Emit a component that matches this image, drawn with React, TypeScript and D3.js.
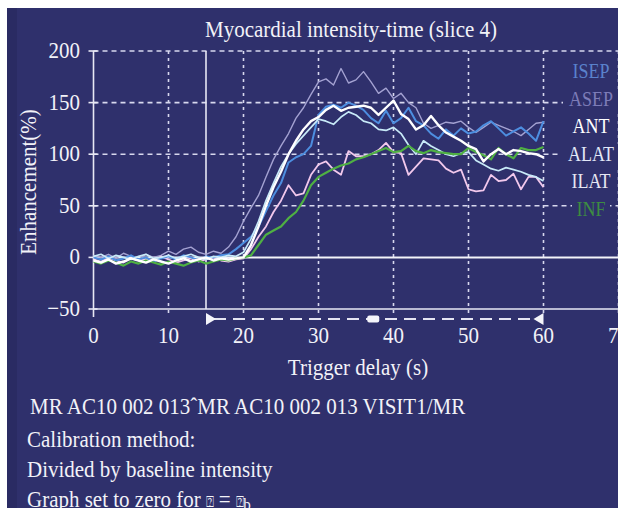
import React from "react";
import * as d3 from "d3";

const times = d3.range(0, 61, 1);

const ISEP = [0,-2,1,-3,-1,2,-2,0,-4,-1,1,-2,2,0,-3,1,0,2,3,8,14,20,30,45,60,72,92,97,100,108,138,146,148,145,150,147,143,135,130,142,130,135,145,132,128,120,115,124,118,125,120,122,128,132,125,118,122,126,120,113,132];
const ASEP = [2,0,3,-1,4,1,-2,3,0,2,6,3,8,10,5,3,6,4,10,20,35,48,60,78,95,108,120,135,145,158,170,173,167,183,169,172,180,170,159,164,154,159,150,145,130,125,128,131,130,132,126,121,126,131,128,125,122,118,124,130,131];
const ANT = [-3,-5,-2,-6,-4,-1,-3,-5,-2,-4,-6,-3,-1,-4,-2,0,-3,-1,-2,-1,0,12,30,50,68,83,100,113,124,132,136,143,147,142,145,146,147,145,138,145,152,139,134,124,128,137,128,121,117,113,108,105,93,100,105,100,104,103,101,100,97];
const ALAT = [1,3,-1,2,0,-2,1,3,-1,0,2,-1,1,3,0,-2,1,0,2,1,5,18,35,55,72,88,100,110,118,126,134,132,129,136,141,138,132,130,124,123,126,120,109,100,113,108,104,100,98,101,102,94,90,86,84,87,85,83,80,78,74];
const ILAT = [-2,-4,0,-3,-5,-1,-3,-2,-4,1,-2,-5,-3,-1,-4,-2,0,-3,-4,-2,-1,8,20,30,44,55,70,60,62,80,90,93,85,80,103,98,98,100,104,111,102,101,80,88,96,95,94,86,82,85,66,64,65,80,74,75,81,66,78,78,68];
const INF = [-4,-6,-3,-5,-8,-4,-6,-3,-5,-7,-4,-6,-8,-5,-3,-6,-4,-2,-3,-1,0,2,12,22,26,30,38,44,55,70,78,82,86,89,91,95,97,100,103,106,102,103,108,103,101,104,102,101,100,100,106,102,99,95,106,100,96,106,104,104,107];

const seriesNames = ["ASEP", "ILAT", "ISEP", "ALAT", "INF", "ANT"];
const seriesValues = [ASEP, ILAT, ISEP, ALAT, INF, ANT];
const seriesColors = ["#a4a2d2", "#f2c8ec", "#4d8ee0", "#c8eaf8", "#4fb043", "#ffffff"];
const seriesWidths = [1.4, 1.8, 2, 1.7, 2.2, 2.4];

const legendNames = ["ISEP", "ASEP", "ANT", "ALAT", "ILAT", "INF"];
const legendColors = ["#5a82cc", "#7d7cb8", "#ffffff", "#e2e8f8", "#e6e6f2", "#3d8c42"];
const legendWidths = [48, 52, 42, 58, 46, 34];

const xTicks = [0, 10, 20, 30, 40, 50, 60, 70];
const yTicks = [-50, 0, 50, 100, 150, 200];
const gridY = [50, 100, 150, 200];
const gridX = [10, 20, 30, 40, 50, 60, 70];

const title = "Myocardial intensity-time (slice 4)";
const xLabel = "Trigger delay (s)";
const yLabel = "Enhancement(%)";
const footLines = [
  "MR AC10 002 013\u02C6MR AC10 002 013 VISIT1/MR",
  "Calibration method:",
  "Divided by baseline intensity",
];

const BG = "#2f306c";
const FONT = "'Liberation Serif', 'Times New Roman', serif";
const SY = 1.12;

function T({ x, y, children, size = 21, fill = "#f2f2f8", anchor = "start", rotate = 0 }: any) {
  return (
    <g transform={`translate(${x},${y}) rotate(${rotate}) scale(1,${SY})`}>
      <text x={0} y={0} fontFamily={FONT} fontSize={size} fill={fill} textAnchor={anchor}>
        {children}
      </text>
    </g>
  );
}

export default function App() {
  const x = d3.scaleLinear().domain([0, 70]).range([93.5, 618.5]);
  const y = d3.scaleLinear().domain([-50, 200]).range([309, 51]);
  const line = d3
    .line<number>()
    .x((_, i) => x(times[i]))
    .y((d) => y(d));

  const gridCol = "#d8d8ee";
  const legendX = 591;
  const legendY = [72, 100, 127, 155, 182, 210];

  return (
    <svg
      width={618}
      height={508}
      style={{ position: "absolute", left: 0, top: 0, background: "#ffffff" }}
    >
      <rect x={7} y={8} width={611} height={500} fill={BG} />
      <rect x={7} y={8} width={10} height={500} fill="#2a2b63" />

      {/* dashed grid */}
      {gridX.map((t) => (
        <line
          key={"gx" + t}
          x1={x(t)}
          x2={x(t)}
          y1={y(200)}
          y2={y(-50) + 8}
          stroke={gridCol}
          strokeWidth={1.6}
          strokeDasharray="3,4"
        />
      ))}
      {gridY.map((v) => (
        <line
          key={"gy" + v}
          x1={x(0)}
          x2={x(70)}
          y1={y(v)}
          y2={y(v)}
          stroke={gridCol}
          strokeWidth={1.6}
          strokeDasharray="5,4"
        />
      ))}

      {/* solid reference lines */}
      <line x1={x(0)} x2={x(70)} y1={y(0)} y2={y(0)} stroke="#f4f4fa" strokeWidth={2} />
      <line x1={x(15)} x2={x(15)} y1={y(200)} y2={y(-50)} stroke="#e8e8f4" strokeWidth={1.6} />

      {/* axes */}
      <line x1={x(0)} x2={x(0)} y1={y(200)} y2={y(-50)} stroke="#e8e8f4" strokeWidth={1.6} />
      <line x1={x(0)} x2={x(70)} y1={y(-50)} y2={y(-50)} stroke="#e8e8f4" strokeWidth={1.6} />
      {yTicks.map((v) => (
        <line key={"yt" + v} x1={x(0) - 5} x2={x(0) + 4} y1={y(v)} y2={y(v)} stroke="#e8e8f4" strokeWidth={1.6} />
      ))}
      <line x1={x(0)} x2={x(0)} y1={y(-50)} y2={y(-50) + 8} stroke="#e8e8f4" strokeWidth={1.6} />

      {/* data lines */}
      {seriesValues.map((vals, i) => (
        <path
          key={seriesNames[i]}
          d={line(vals) || ""}
          fill="none"
          stroke={seriesColors[i]}
          strokeWidth={seriesWidths[i]}
          strokeLinejoin="round"
        />
      ))}

      {/* legend */}
      {legendNames.map((n, i) => (
        <g key={n}>
          <rect
            x={legendX - legendWidths[i] / 2 - 2}
            y={legendY[i] - 11}
            width={legendWidths[i] + 4}
            height={22}
            fill={BG}
          />
          <T x={legendX} y={legendY[i] + 6} size={18} fill={legendColors[i]} anchor="middle">
            {n}
          </T>
        </g>
      ))}

      {/* acquisition window marker */}
      <line
        x1={x(15) + 8}
        x2={x(60) - 8}
        y1={319}
        y2={319}
        stroke="#e4e4f2"
        strokeWidth={2.2}
        strokeDasharray="12,7"
      />
      <path
        d={`M${x(15)},${313}L${x(15)},${325}L${x(15) + 10},${319}Z`}
        fill="#f4f4fa"
      />
      <path
        d={`M${x(60)},${313}L${x(60)},${325}L${x(60) - 10},${319}Z`}
        fill="#f4f4fa"
      />
      <rect x={x(37.3) - 6} y={315.5} width={12} height={7} rx={2} fill="#f4f4fa" />

      {/* tick labels */}
      {yTicks.map((v) => (
        <T key={"yl" + v} x={80} y={y(v) + 7} anchor="end">
          {v < 0 ? "\u2212" + Math.abs(v) : String(v)}
        </T>
      ))}
      {xTicks.map((t) => (
        <T key={"xl" + t} x={x(t)} y={343} anchor="middle">
          {String(t)}
        </T>
      ))}

      {/* titles */}
      <T x={351} y={37} anchor="middle">
        {title}
      </T>
      <T x={358} y={375} anchor="middle">
        {xLabel}
      </T>
      <T x={36} y={182} anchor="middle" rotate={-90}>
        {yLabel}
      </T>

      {/* footer */}
      <T x={30} y={414}>{footLines[0]}</T>
      <T x={27} y={447}>{footLines[1]}</T>
      <T x={27} y={477}>{footLines[2]}</T>
      <g transform={`translate(27,507) scale(1,${SY})`}>
        <text x={0} y={0} fontFamily={FONT} fontSize={21} fill="#f2f2f8">
          Graph set to zero for{" "}
          <tspan fontSize={13} fontFamily="'DejaVu Sans'">{"\u2370"}</tspan>
          {" = "}
          <tspan fontSize={13} fontFamily="'DejaVu Sans'">{"\u2370"}</tspan>
          <tspan fontSize={15} dy={3}>b</tspan>
        </text>
      </g>
    </svg>
  );
}
